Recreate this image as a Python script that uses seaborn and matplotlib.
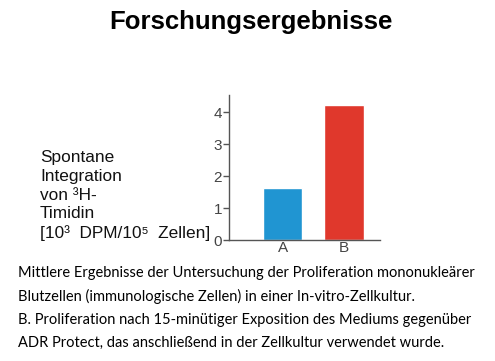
import matplotlib.pyplot as plt
import pandas as pd
import seaborn as sns

# data
groups = ['A', 'B']
values = [1.63, 4.25]
bar_colors = ['#2095d2', '#e0382c']
yticks = [0, 1, 2, 3, 4]

title = 'Forschungsergebnisse'
ylabel_lines = ['Spontane', 'Integration', 'von ³H-', 'Timidin', '[10³  DPM/10⁵  Zellen]']
caption_lines = [
    'Mittlere Ergebnisse der Untersuchung der Proliferation mononukleärer',
    'Blutzellen (immunologische Zellen) in einer In-vitro-Zellkultur.',
    'B. Proliferation nach 15-minütiger Exposition des Mediums gegenüber',
    'ADR Protect, das anschließend in der Zellkultur verwendet wurde.',
]

df = pd.DataFrame({'group': groups, 'value': values})

sns.set_style('white')
plt.rcParams['font.family'] = ['Liberation Sans', 'DejaVu Sans']

fig = plt.figure(figsize=(4.95, 3.61), dpi=100)
ax = fig.add_axes([0.4626, 0.335, 0.3054, 0.402])

sns.barplot(data=df, x='group', y='value', hue='group', palette=bar_colors,
            width=0.64, legend=False, ax=ax, saturation=1)

ax.set_xlim(-0.87, 1.585)
ax.set_ylim(0, 4.55)
ax.set_yticks(yticks)
ax.set_xlabel('')
ax.set_ylabel('')
for s in ['top', 'right']:
    ax.spines[s].set_visible(False)
for s in ['left', 'bottom']:
    ax.spines[s].set_color('#555555')
    ax.spines[s].set_linewidth(1.0)
ax.tick_params(axis='y', direction='out', length=4, width=1, color='#555555',
               labelsize=11, labelcolor='#444444', pad=1, left=True)
ax.tick_params(axis='x', length=0, labelsize=11, labelcolor='#444444', pad=1)

fig.text(0.507, 0.94, title, ha='center', va='center', fontsize=18.5,
         fontweight='bold', color='#000000', family=['Liberation Sans', 'DejaVu Sans'])

fig.text(40 / 495, 1 - 238 / 361, '\n'.join(ylabel_lines), ha='left', va='baseline',
         fontsize=12.4, linespacing=1.3, color='#111111',
         family=['Liberation Sans', 'DejaVu Sans'])

for i, line in enumerate(caption_lines):
    fig.text(18 / 495, 1 - (273 + i * 23.3) / 361, line, ha='left', va='center',
             fontsize=10.5, color='#000000', family=['Lato', 'DejaVu Sans'])

fig.savefig('out.png', dpi=100)
